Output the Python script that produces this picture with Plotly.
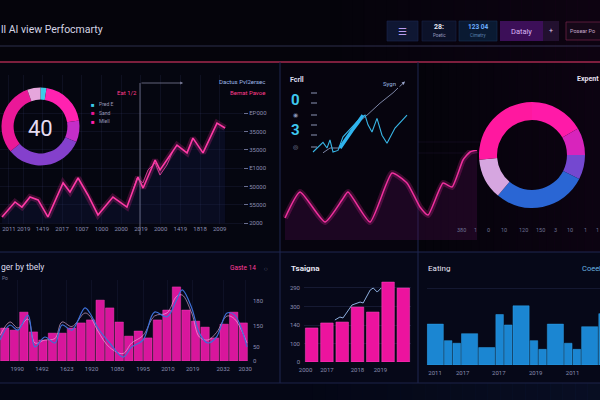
import plotly.graph_objects as go

W, H = 600, 400
def px(x): return x / W
def py(y): return 1 - y / H

FONT = "Roboto"
TICKC = "#8a8db0"
GRID = "rgba(70,80,140,0.14)"

# ---------------- DATA ----------------
# Top-left donut (clockwise from 12 o'clock)
tl_donut_labels = ["Pred E", "Sand", "Mlell", "Core", "Edge", "Rest"]
tl_donut_vals = [2.5, 20, 9, 32.5, 30.5, 5.5]
tl_donut_center = "40"

# Top-left line chart
tl_years = ["2011", "2019", "1419", "2017", "1007", "1000", "2000", "2019", "2000", "1419", "1818", "2009"]
tl_year_pos = [0.3, 1.05, 2, 3, 4, 5, 6, 7, 8, 9, 10, 11]
tl_ytick_vals = [0, 10000, 20000, 30000, 40000, 50000, 60000]
tl_ytick_text = ["2000", "55000", "50000", "E1000", "35000", "35000", "EP000"]
tl_x = [-0.05, 0.61, 0.96, 1.37, 1.78, 2.28, 3.05, 3.40, 3.81, 4.31, 4.82, 5.58, 6.29, 6.85,
        7.11, 7.72, 7.97, 8.32, 8.83, 9.34, 9.64, 10.15, 10.86, 11.27]
tl_y = [3300, 11500, 8700, 14200, 12600, 3300, 21900, 16900, 24600, 15300, 4400, 14200, 8700, 25100,
        19100, 34400, 29000, 34400, 42600, 38300, 46400, 38300, 54600, 51900]
tl2_x = [6.6, 6.8, 7.1, 7.36, 7.72, 7.97, 8.32, 8.6]
tl2_y = [18000, 24600, 21900, 29000, 32800, 26200, 31700, 38800]

# Top-middle cyan chart
cy_x = [3, 13, 17, 20, 23, 28, 33, 42, 50, 55, 58, 62, 67, 72, 77, 85, 97]
cy_y = [10, 22, 15, 25, 10, 12, 29, 41, 52, 56, 44, 35, 52, 31, 21, 40, 56]
cy_thick_x = [30, 36, 42, 48, 53]
cy_thick_y = [15, 27, 37, 47, 56]
gr_x = [13, 20, 30, 47, 57, 70, 83, 88]
gr_y = [9, 15, 15, 46, 56, 71, 84, 90]
tm_numbers = ["0", "3"]

# Pink wave (top-middle into top-right)
wave_x = [2, 17, 42, 59, 65, 87, 109, 124, 137, 145, 160, 169, 180, 187, 194]
wave_y = [22, 48, 18, 40, 48, 18, 67, 57, 33, 25, 57, 53, 80, 88, 90]

# Top-right donut (clockwise from 12 o'clock)
tr_donut_labels = ["A", "B", "C", "D", "E", "F"]
tr_donut_vals = [16.7, 8.3, 7.5, 28.6, 12.5, 26.4]
tr_xlabels = ["380", "1", "0", "10", "120", "150", "3", "10", "1", "1"]

# Bottom-left bars + lines
bl_vals = [110, 103, 163, 97, 70, 93, 93, 110, 127, 137, 203, 177, 130, 83, 100, 77, 137, 170,
           247, 170, 133, 113, 77, 123, 163, 127]
bl_line_x = [-0.5, 0.54, 1.38, 2.43, 3.16, 4.2, 5.26, 6.0, 7.04, 8.4, 8.92, 9.76, 11.0, 12.4, 13.3,
             14.5, 15.7, 17.0, 18.0, 18.6, 19.6, 20.4, 21.3, 22.2, 23.3, 24.1, 25.4]
bl_line_y = [70, 120, 103, 153, 47, 80, 60, 120, 103, 177, 160, 110, 60, 13, 47, 70, 163, 147, 203,
             237, 177, 93, 60, 80, 160, 153, 47]
bl_line2_y = [85, 130, 110, 140, 60, 70, 75, 130, 115, 160, 150, 100, 45, 25, 60, 85, 150, 160, 215,
              220, 160, 80, 70, 95, 150, 140, 60]
bl_xt_vals = [1.3, 3.9, 6.5, 9.1, 11.8, 14.5, 17.1, 19.7, 22.9, 25.2]
bl_xt_text = ["1990", "1492", "1623", "1920", "1080", "1995", "2010", "2019", "2032", "2030"]
bl_yt_vals = [0, 47, 117, 200]
bl_yt_text = ["0", "50", "150", "180"]

# Bottom-middle bars + line
bm_vals = [184, 211, 216, 297, 270, 432, 400]
bm_line_x = [1.52, 1.85, 2.05, 2.64, 3.17, 3.37, 3.83, 4.03, 4.29, 4.55]
bm_line_y = [227, 243, 238, 308, 324, 319, 389, 400, 378, 400]
bm_yt_vals = [0, 100, 200, 300, 400]
bm_yt_text = ["0", "100", "140", "300", "290"]
bm_xt_vals = [-0.4, 1, 3, 4.5]
bm_xt_text = ["2000", "2017", "2018", "2019"]

# Bottom-right bars (variable widths in slots)
br_widths = [2, 1, 1, 2, 2, 1, 1, 2, 1, 1, 2, 1, 1, 2, 1]
br_vals = [47, 28, 25, 36, 20, 58, 46, 68, 28, 18, 47, 25, 18, 44, 59]
br_xt_vals = [0.47, 3.7, 7.9, 12.2, 16.5]
br_xt_text = ["2011", "2017", "2017", "2019", "2011"]

# ---------------- FIGURE ----------------
fig = go.Figure()

# Top-left donut
fig.add_trace(go.Pie(
    labels=tl_donut_labels, values=tl_donut_vals, hole=0.69, sort=False, direction="clockwise",
    rotation=0, textinfo="none", showlegend=False,
    marker=dict(colors=["#3ccbe8", "#ff22b0", "#c42ec8", "#8440cc", "#ea1898", "#e6a6dc"],
                line=dict(width=0)),
    domain=dict(x=[px(1.5), px(79.5)], y=[py(165.5), py(87.5)])))

# Top-right donut
fig.add_trace(go.Pie(
    labels=tr_donut_labels, values=tr_donut_vals, hole=0.66, sort=False, direction="clockwise",
    rotation=0, textinfo="none", showlegend=False,
    marker=dict(colors=["#ff1aa8", "#d824bc", "#7448d0", "#2a66d4", "#d6a6e0", "#ff189f"],
                line=dict(width=0)),
    domain=dict(x=[px(479), px(585)], y=[py(208), py(102)])))

# Top-left line chart
fig.add_trace(go.Scatter(x=tl_x, y=tl_y, mode="lines", line=dict(color="rgba(255,40,160,0.22)", width=6),
                         fill="tozeroy", fillcolor="rgba(25,30,85,0.25)", xaxis="x", yaxis="y",
                         showlegend=False, hoverinfo="skip"))
fig.add_trace(go.Scatter(x=tl2_x, y=tl2_y, mode="lines", line=dict(color="rgba(255,80,180,0.7)", width=1),
                         xaxis="x", yaxis="y", showlegend=False))
fig.add_trace(go.Scatter(x=tl_x, y=tl_y, mode="lines", line=dict(color="#ff3aa6", width=1.6),
                         xaxis="x", yaxis="y", showlegend=False))

# Top-middle cyan chart
fig.add_trace(go.Scatter(x=gr_x, y=gr_y, mode="lines", line=dict(color="#9aa6cc", width=0.8),
                         xaxis="x2", yaxis="y2", showlegend=False))
fig.add_trace(go.Scatter(x=cy_x, y=cy_y, mode="lines", line=dict(color="#38b6e6", width=1.1),
                         xaxis="x2", yaxis="y2", showlegend=False))
fig.add_trace(go.Scatter(x=cy_thick_x, y=cy_thick_y, mode="lines", line=dict(color="#2fb4ee", width=3.5),
                         xaxis="x2", yaxis="y2", showlegend=False))

# Pink wave
fig.add_trace(go.Scatter(x=wave_x, y=wave_y, mode="lines", line=dict(color="rgba(255,40,170,0.22)", width=6, shape="spline", smoothing=0.5),
                         fill="tozeroy", fillcolor="rgba(85,15,85,0.28)", xaxis="x3", yaxis="y3",
                         showlegend=False))
fig.add_trace(go.Scatter(x=wave_x, y=wave_y, mode="lines", line=dict(color="#f0309e", width=1.5, shape="spline", smoothing=0.5),
                         xaxis="x3", yaxis="y3", showlegend=False))

# Bottom-left bars and lines
fig.add_trace(go.Bar(x=list(range(len(bl_vals))), y=bl_vals, width=0.88,
                     marker=dict(color="#d8169c", line=dict(color="#ff4cc0", width=0.4)),
                     xaxis="x4", yaxis="y4", showlegend=False))
fig.add_trace(go.Scatter(x=bl_line_x, y=bl_line2_y, mode="lines", line=dict(color="rgba(245,190,235,0.75)", width=0.8, shape="spline"),
                         xaxis="x4", yaxis="y4", showlegend=False))
fig.add_trace(go.Scatter(x=bl_line_x, y=bl_line_y, mode="lines", line=dict(color="#3d70d8", width=1.2, shape="spline"),
                         xaxis="x4", yaxis="y4", showlegend=False))

# Bottom-middle bars + line
fig.add_trace(go.Bar(x=list(range(len(bm_vals))), y=bm_vals, width=0.82,
                     marker=dict(color="#ec139e", line=dict(color="#ff50c4", width=0.5)),
                     xaxis="x5", yaxis="y5", showlegend=False))
fig.add_trace(go.Scatter(x=bm_line_x, y=bm_line_y, mode="lines", line=dict(color="#8fb0e0", width=1),
                         xaxis="x5", yaxis="y5", showlegend=False))

# Bottom-right bars
br_x, s = [], 0
for w in br_widths:
    br_x.append(s + (w - 1) / 2)
    s += w
fig.add_trace(go.Bar(x=br_x, y=br_vals, width=[w - 0.12 for w in br_widths],
                     marker=dict(color="#1b86d2", line=dict(color="#2ea0e8", width=0.5)),
                     xaxis="x6", yaxis="y6", showlegend=False, cliponaxis=True))

# ---------------- AXES ----------------
def hidden(**kw):
    d = dict(showgrid=False, zeroline=False, showticklabels=False, showline=False, fixedrange=True,
             automargin=False)
    d.update(kw)
    return d

tickfont = dict(family=FONT, size=6, color=TICKC)

fig.update_layout(
    xaxis=dict(domain=[px(0), px(243)], range=[-0.152, 12.18], tickvals=tl_year_pos,
               ticktext=tl_years, showgrid=True, gridcolor=GRID, gridwidth=0.6, zeroline=False,
               tickfont=tickfont, ticks="", anchor="y", showline=False, automargin=False, tickangle=0),
    yaxis=dict(domain=[py(224), py(75)], range=[-546, 80874], tickvals=tl_ytick_vals, ticktext=tl_ytick_text,
               side="right", ticks="outside", ticklen=4, tickcolor="#6a6e90", showgrid=True, gridcolor=GRID,
               gridwidth=0.6, zeroline=False, tickfont=tickfont, anchor="x", showline=False, automargin=False),
    xaxis2=hidden(domain=[px(310), px(410)], range=[0, 100], anchor="y2"),
    yaxis2=hidden(domain=[py(160), py(80)], range=[0, 100], anchor="x2"),
    xaxis3=hidden(domain=[px(283), px(480)], range=[0, 197], anchor="y3"),
    yaxis3=hidden(domain=[py(240), py(150)], range=[0, 90], anchor="x3"),
    xaxis4=dict(domain=[px(0), px(248)], range=[-0.5, 25.5], tickvals=bl_xt_vals, ticktext=bl_xt_text,
                showgrid=True, gridcolor="rgba(70,80,140,0.12)", zeroline=False, tickfont=tickfont,
                ticks="", anchor="y4", showline=False, automargin=False, ticklabelstandoff=3, tickangle=0),
    yaxis4=dict(domain=[py(361), py(280)], range=[0, 270], tickvals=bl_yt_vals, ticktext=bl_yt_text,
                side="right", showgrid=False, zeroline=False, tickfont=tickfont, anchor="x4", ticks="",
                automargin=False, ticklabelstandoff=4),
    xaxis5=dict(domain=[px(304), px(411)], range=[-0.5, 6.5], tickvals=bm_xt_vals, ticktext=bm_xt_text,
                showgrid=False, zeroline=False, tickfont=tickfont, ticks="", anchor="y5", automargin=False,
                ticklabelstandoff=3, tickangle=0),
    yaxis5=dict(domain=[py(362), py(278)], range=[0, 454], tickvals=bm_yt_vals, ticktext=bm_yt_text,
                showgrid=True, gridcolor="rgba(80,90,150,0.22)", zeroline=False, tickfont=tickfont,
                ticks="", anchor="x5", automargin=False, ticklabelstandoff=3),
    xaxis6=dict(domain=[px(426.7), px(600)], range=[-0.5, 19.7], tickvals=br_xt_vals, ticktext=br_xt_text,
                showgrid=False, zeroline=False, tickfont=tickfont, ticks="", anchor="y6", automargin=False,
                ticklabelstandoff=3, tickangle=0),
    yaxis6=dict(domain=[py(365), py(278)], range=[0, 100], tickvals=[88.5, 100], showticklabels=False,
                showgrid=True, gridcolor="rgba(80,90,150,0.2)", zeroline=False, anchor="x6", automargin=False),
)

# ---------------- SHAPES ----------------
shapes = []
def rect(x0, y0, x1, y1, fill, line=None, lw=0, layer="below"):
    shapes.append(dict(type="rect", xref="paper", yref="paper", x0=px(x0), x1=px(x1), y0=py(y1), y1=py(y0),
                       fillcolor=fill, line=dict(color=line or "rgba(0,0,0,0)", width=lw), layer=layer))
def hline(x0, x1, y, color, w=1, layer="below"):
    shapes.append(dict(type="line", xref="paper", yref="paper", x0=px(x0), x1=px(x1), y0=py(y), y1=py(y),
                       line=dict(color=color, width=w), layer=layer))
def vline(x, y0, y1, color, w=1, layer="below"):
    shapes.append(dict(type="line", xref="paper", yref="paper", x0=px(x), x1=px(x), y0=py(y0), y1=py(y1),
                       line=dict(color=color, width=w), layer=layer))

# soft background gradients (thin strips)
N = 24
for i in range(N):
    x0 = 330 + i * (270 / N)
    a = 0.012 * (i + 1) / 2.2
    rect(x0, 0, x0 + 270 / N + 0.5, 62, f"rgba(70,0,65,{a:.3f})")
for i in range(N):
    x0 = 418 + i * (182 / N)
    a = 0.006 * (i + 1)
    rect(x0, 62, x0 + 182 / N + 0.5, 252, f"rgba(55,0,55,{a:.3f})")
rect(0, 62, 280, 252, "rgba(8,10,32,0.25)")
rect(280, 62, 418, 252, "rgba(8,6,28,0.2)")
rect(0, 252, 600, 383, "rgba(10,14,42,0.42)")
rect(0, 383, 600, 400, "rgba(6,8,22,0.9)")
for i in range(N):
    x0 = 300 + i * (300 / N)
    a = 0.008 * (i + 1)
    rect(x0, 383, x0 + 300 / N + 0.5, 400, f"rgba(20,45,95,{a:.3f})")

# separators
hline(0, 600, 46, "rgba(85,90,140,0.5)", 1)
hline(0, 600, 62, "#a5284e", 1.5)
vline(280, 62, 383, "#1f2750", 1)
vline(418, 62, 383, "#1f2750", 1)
hline(0, 600, 252, "#1f2750", 1)
hline(0, 600, 383, "#1c2348", 1)
hline(418, 480, 142, "rgba(90,60,120,0.25)", 0.6)
hline(418, 480, 153, "rgba(90,60,120,0.25)", 0.6)

# header buttons
rect(387, 21, 418, 41, "#0f1733", "#1c2550", 0.6)
rect(422, 21, 456, 41, "#0c1229", "#1a2248", 0.6)
rect(459, 21, 497, 41, "#0a1a32", "#163056", 0.6)
rect(500, 21, 543, 41, "#3c0f58")
rect(543, 21, 559, 41, "#22102f")
rect(566, 22, 602, 40, "#160818", "#6a2244", 0.8)

# TL annotation line
vline(140, 83, 235, "#7a7c98", 0.8, layer="above")

# TM dashes
for yy in [93, 103, 115, 125, 135, 147]:
    hline(311, 317, yy, "#8a94b4", 1, layer="above")

fig.update_layout(shapes=shapes)

# ---------------- ANNOTATIONS ----------------
anns = []
def ann(text, x, y, size=6, color="#d0d0e0", xanchor="left", bold=False, **kw):
    t = f"<b>{text}</b>" if bold else text
    d = dict(text=t, x=px(x), y=py(y), xref="paper", yref="paper", xanchor=xanchor, yanchor="middle",
             showarrow=False, borderpad=0, font=dict(family=FONT, size=size, color=color))
    d.update(kw)
    anns.append(d)

ann("ll AI view Perfocmarty", 0, 30, 10.5, "#d4d4e4")
ann("☰", 402.5, 31, 10, "#b89cf0", "center")
ann("28:", 439, 27, 7, "#e8e8f4", "center", bold=True)
ann("Poetic", 439, 35.5, 4.5, "#9a9cc0", "center")
ann("123 04", 478, 27, 6.5, "#6aaeff", "center", bold=True)
ann("Cimetry", 478, 35.5, 4.5, "#5a80b0", "center")
ann("Dataly", 521.5, 31, 7.5, "#d8b4f4", "center")
ann("+", 551, 31, 7, "#e0d0f0", "center")
ann("Posear Po", 569, 31, 5.5, "#c8a8cc")

# TL texts
ann(tl_donut_center, 40.5, 128, 22, "#e6ddf2", "center")
for (lab, col, yy) in zip(tl_donut_labels[:3], ["#3ccbe8", "#ea1898", "#ff22b0"], [104, 113, 121]):
    ann("■", 90, yy, 6, col)
    ann(lab, 98, yy, 5, "#9a9ab8")
ann("Eat 1/2", 127, 92, 6, "#ff3c8c", "center")
ann("Dactus Pvl2ersec", 266, 81, 6, "#9fb8e8", "right")
ann("Bemat Pavoe", 266, 92, 6, "#ff3c8c", "right")
anns.append(dict(x=px(183), y=py(83), xref="paper", yref="paper", ax=-43, ay=0, text="", showarrow=True,
                 arrowhead=2, arrowsize=0.7, arrowwidth=0.8, arrowcolor="#7a7c98"))

# TM texts
ann("Fcrll", 297, 80, 7, "#dcdcf0", "center", bold=True)
ann(tm_numbers[0], 295, 100, 15, "#3ec9f0", "center", bold=True)
ann("◉", 295, 115, 6, "#8a94b4", "center")
ann(tm_numbers[1], 295, 130, 15, "#3ec9f0", "center", bold=True)
ann("◎", 295, 146, 6, "#8a94b4", "center")
ann("Sygn", 389, 83, 6, "#9bb8e0", "center")
anns.append(dict(x=95, y=98, xref="x2", yref="y2", ax=88, ay=90, axref="x2", ayref="y2", text="",
                 showarrow=True, arrowhead=2, arrowsize=0.8, arrowwidth=0.8, arrowcolor="#9aa6cc"))

# TR texts
ann("Expent", 576, 79, 7, "#e6e0f0", bold=True)
for lab, xx in zip(tr_xlabels, [461, 475, 489, 504, 523, 540, 555, 570, 585, 597]):
    ann(lab, xx, 230, 5.5, "#6e7294", "center")

# Bottom texts
ann("ger by tbely", 0, 267, 8.5, "#dcdcec")
ann("Po", 1, 278, 5, "#7a7c98")
ann("Gaste 14", 257, 268, 6.5, "#ff3c9a", "right")
ann("◌", 266, 268, 6, "#8a8ca8", "center")
ann("Tsaigna", 290, 268, 8, "#e6e6f4", bold=True)
ann("Eating", 427, 268, 8, "#e6e6f4")
ann("Coeel", 581, 268, 7.5, "#6ab4e0")

fig.update_layout(
    annotations=anns,
    width=W, height=H, margin=dict(l=0, r=0, t=0, b=0, pad=0, autoexpand=False),
    paper_bgcolor="#05040b", plot_bgcolor="rgba(0,0,0,0)",
    bargap=0.1, showlegend=False,
    font=dict(family=FONT, color="#d0d0e0"),
)

fig.write_html("out.html")
